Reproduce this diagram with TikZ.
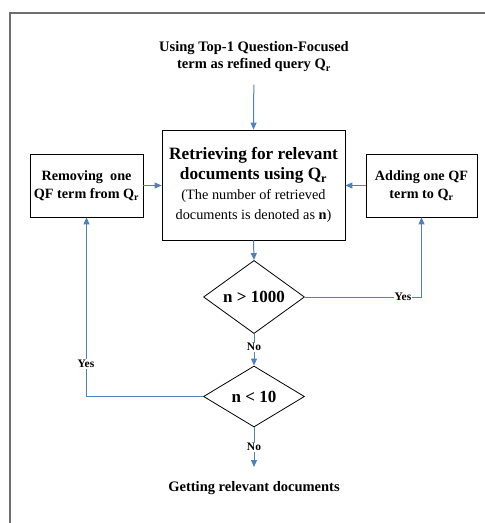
\documentclass[tikz,border=0pt]{standalone}
\usepackage{fontspec}
\setmainfont{Liberation Serif}
\usetikzlibrary{shapes.geometric,arrows.meta}
\definecolor{conncol}{RGB}{79,129,189}
\definecolor{framecol}{RGB}{110,110,110}
\tikzset{
  boxnode/.style={draw=black,line width=0.8pt,rectangle,align=center,inner sep=2pt},
  decision/.style={draw=black,line width=0.8pt,diamond,inner sep=0pt,minimum width=101pt,minimum height=61pt,font=\fontsize{17}{20}\selectfont\bfseries},
  connector/.style={draw=conncol,line width=1pt,-{Triangle[width=6pt,length=7pt]}},
  lbl/.style={fill=white,inner sep=1pt,font=\fontsize{11.5}{13}\selectfont\bfseries},
  plaintext/.style={align=center,font=\fontsize{14.5}{17}\selectfont\bfseries}
}
\newcommand{\bigbf}{\fontsize{17.3}{20}\selectfont\bfseries}
\newcommand{\smallrm}{\fontsize{14.3}{17}\selectfont\mdseries}
\begin{document}
\begin{tikzpicture}[x=1pt,y=-1pt]
\useasboundingbox (0,0) rectangle (485,523);
\draw[draw=framecol,line width=1.5pt] (485,13) -- (10,13) -- (10,523);
\node[plaintext] (top) at (254,57) {Using Top-1 Question-Focused\\term as refined query Q\textsubscript{r}};
\node[boxnode,minimum width=183pt,minimum height=110pt,font=\bigbf] (main) at (253.5,185) {Retrieving for relevant\\documents using Q\textsubscript{r}\\\smallrm (The number of retrieved\\\smallrm documents is denoted as \textbf{n})};
\node[boxnode,minimum width=113pt,minimum height=63pt,font=\fontsize{14.2}{18}\selectfont\bfseries] (left) at (86.5,185.5) {Removing\ \ one\\QF term from Q\textsubscript{r}};
\node[boxnode,minimum width=111pt,minimum height=63pt,font=\fontsize{14.2}{18}\selectfont\bfseries] (right) at (421.5,185.5) {Adding one QF\\term to Q\textsubscript{r}};
\node[decision] (d1) at (254,297) {n > 1000};
\node[decision] (d2) at (254,396.5) {n < 10};
\node[plaintext] (bot) at (254,488) {Getting relevant documents};
\coordinate (end) at (254,467);

\draw[connector,shorten <=9pt] (top) -- (main.north);
\draw[connector] (left.east) -- (main.west |- left.east);
\draw[connector] (right.west) -- (main.east |- right.west);
\draw[connector] (main.south) -- (d1.north);
\draw[connector] (d1.east) -| (right.south);
\node[lbl] (y1) at (403,297) {Yes};
\draw[connector] (d1.south) -- (d2.north);
\node[lbl] (n1) at (254,347) {No};
\draw[connector] (d2.west) -| (left.south);
\node[lbl] (y2) at (86,364) {Yes};
\draw[connector] (d2.south) -- (end);
\node[lbl] (n2) at (254,447) {No};
\end{tikzpicture}
\end{document}
